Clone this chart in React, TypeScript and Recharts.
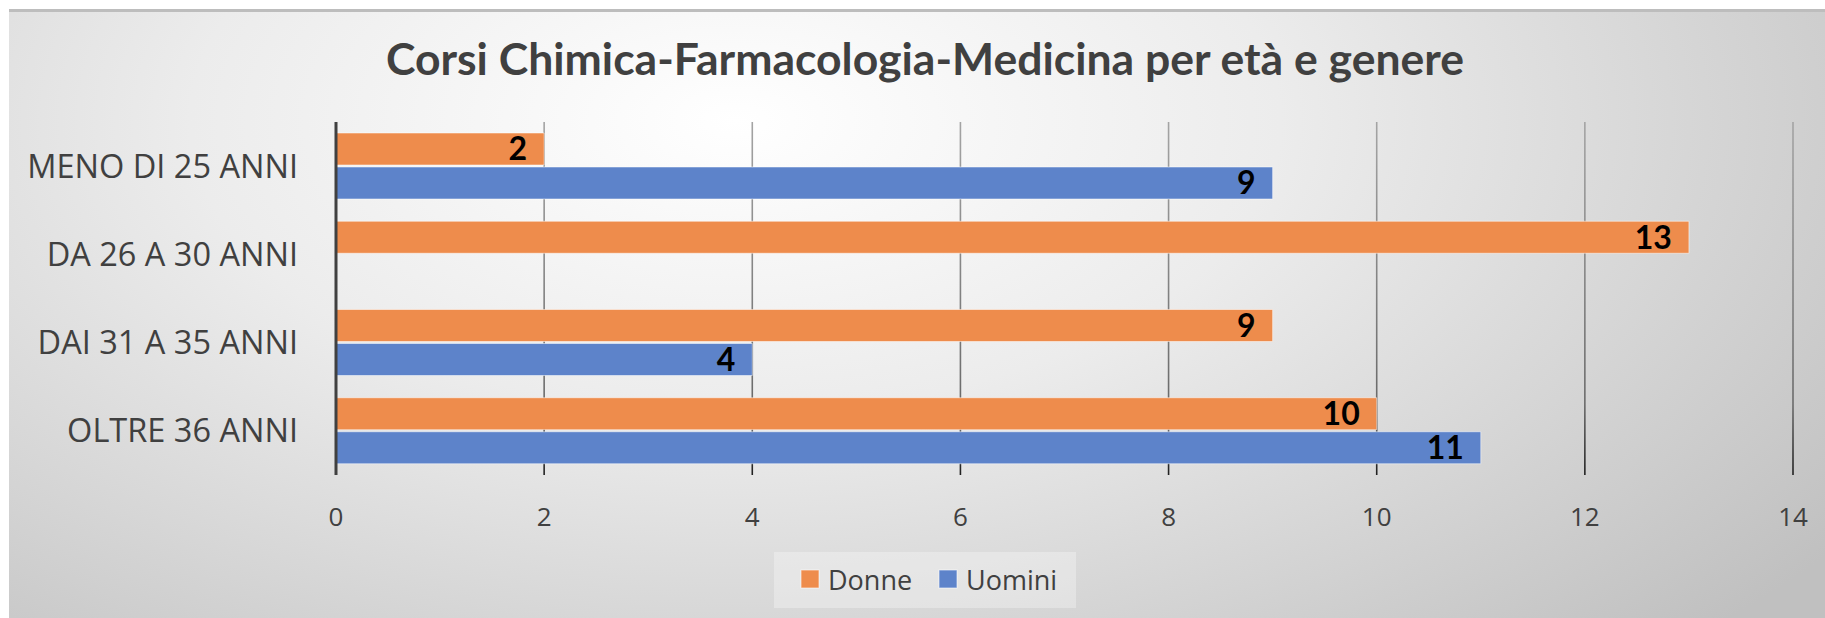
import React from "react";
import { BarChart, Bar, XAxis, YAxis, CartesianGrid, LabelList } from "recharts";

const categories = ["MENO DI 25 ANNI", "DA 26 A 30 ANNI", "DAI 31 A 35 ANNI", "OLTRE 36 ANNI"];
const donne = [2, 13, 9, 10];
const uomini: (number | null)[] = [9, null, 4, 11];
const xTicks = [0, 2, 4, 6, 8, 10, 12, 14];
const title = "Corsi Chimica-Farmacologia-Medicina per età e genere";
const seriesNames = ["Donne", "Uomini"];

const ORANGE = "#EE8C4C";
const BLUE = "#5D83CA";

const data = categories.map((c, i) => ({ cat: c, donne: donne[i], uomini: uomini[i] }));

export default function App() {
  return (
    <div style={{ position: "relative", width: 1825, height: 618, background: "#fff", overflow: "hidden" }}>
      <style>{`body{margin:0;overflow:hidden}`}</style>
      <div
        style={{
          position: "absolute",
          left: 9,
          top: 9,
          width: 1816,
          height: 609,
          boxSizing: "border-box",
          borderTop: "3px solid #bdbdbd",
          background:
            "radial-gradient(ellipse 75% 120% at 40% 18%, #ffffff 0%, #ececec 40%, #d6d6d6 70%, #c0c0c0 100%)",
        }}
      />
      <div style={{ position: "absolute", left: 0, top: 0 }}>
        <BarChart
          width={1825}
          height={618}
          data={data}
          layout="vertical"
          margin={{ top: 122, right: 32, bottom: 83, left: 0 }}
          barSize={32}
          barGap={2}
        >
          <defs>
            <linearGradient id="gridGrad" gradientUnits="userSpaceOnUse" x1="0" y1="122" x2="0" y2="475">
              <stop offset="0%" stopColor="#a4a4a4" />
              <stop offset="80%" stopColor="#6a6a6a" />
              <stop offset="100%" stopColor="#202020" />
            </linearGradient>
          </defs>
          <CartesianGrid horizontal={false} vertical={true} stroke="url(#gridGrad)" strokeWidth={1.6} />
          <XAxis
            type="number"
            domain={[0, 14]}
            ticks={xTicks}
            interval={0}
            height={60}
            axisLine={false}
            tickLine={false}
            tickSize={0}
            tickMargin={33}
            tick={{ fill: "#404040", fontSize: 26, fontFamily: "Open Sans" }}
          />
          <YAxis
            type="category"
            dataKey="cat"
            width={336}
            axisLine={{ stroke: "#404040", strokeWidth: 3 }}
            tickLine={false}
            tickSize={0}
            tickMargin={38}
            tick={{ fill: "#404040", fontSize: 32.5, fontFamily: "Open Sans" }}
          />
          <Bar dataKey="donne" name={seriesNames[0]} fill={ORANGE} stroke="rgba(255,255,255,0.5)" strokeWidth={1} isAnimationActive={false}>
            <LabelList dataKey="donne" position="insideRight" offset={17} fill="#000" fontSize={32} fontWeight="bold" fontFamily="Lato" />
          </Bar>
          <Bar dataKey="uomini" name={seriesNames[1]} fill={BLUE} stroke="rgba(255,255,255,0.5)" strokeWidth={1} isAnimationActive={false}>
            <LabelList dataKey="uomini" position="insideRight" offset={17} fill="#000" fontSize={32} fontWeight="bold" fontFamily="Lato" />
          </Bar>
        </BarChart>
      </div>
      <svg width={1825} height={618} style={{ position: "absolute", left: 0, top: 0, pointerEvents: "none" }}>
        <text x={925} y={75} textAnchor="middle" fill="#404040" fontSize={44.5} fontWeight="bold" fontFamily="Lato">
          {title}
        </text>
        <rect x={774} y={552} width={302} height={56} fill="rgba(255,255,255,0.3)" />
        <rect x={801} y={570} width={18} height={18} fill={ORANGE} stroke="rgba(255,255,255,0.6)" />
        <text x={828} y={590} fill="#404040" fontSize={27} fontFamily="Open Sans">{seriesNames[0]}</text>
        <rect x={939} y={570} width={18} height={18} fill={BLUE} stroke="rgba(255,255,255,0.6)" />
        <text x={966} y={590} fill="#404040" fontSize={27} fontFamily="Open Sans">{seriesNames[1]}</text>
      </svg>
    </div>
  );
}
